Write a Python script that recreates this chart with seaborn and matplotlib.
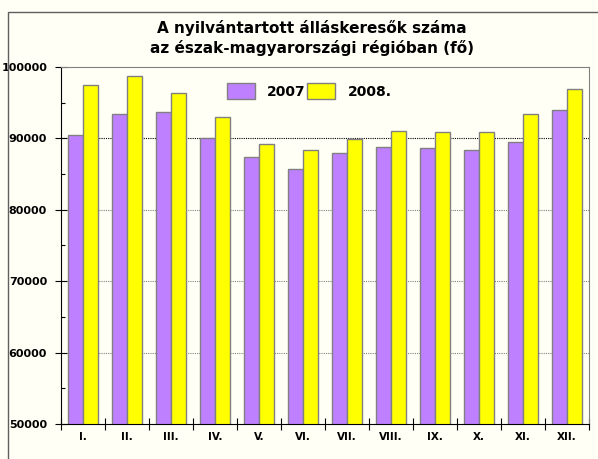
import pandas as pd
import seaborn as sns
import matplotlib.pyplot as plt
from matplotlib.patches import Rectangle
from matplotlib.ticker import MultipleLocator

# Monthly number of registered job seekers
months = ["I.", "II.", "III.", "IV.", "V.", "VI.", "VII.", "VIII.", "IX.", "X.", "XI.", "XII."]
y2007 = [90400, 93400, 93650, 90000, 87350, 85700, 87900, 88850, 88600, 88400, 89500, 93950]
y2008 = [97450, 98700, 96400, 92950, 89250, 88350, 89950, 91000, 90900, 90950, 93350, 96950]
series = ["2007", "2008."]

df = pd.DataFrame({
    "month": months * 2,
    "value": y2007 + y2008,
    "year": [series[0]] * 12 + [series[1]] * 12,
})

bg = "#FFFFF5"
fig = plt.figure(figsize=(5.98, 4.59), dpi=100, facecolor=bg)
ax = fig.add_axes([0.102, 0.0763, 0.883, 0.778])
ax.set_facecolor(bg)

sns.barplot(
    data=df, x="month", y="value", hue="year",
    palette=["#BF80FF", "#FFFF00"], width=0.7,
    edgecolor="#808080", linewidth=1.0, saturation=1, ax=ax,
)

ax.set_ylim(50000, 100000)
ax.set_xlim(-0.5, 11.5)
ax.yaxis.set_minor_locator(MultipleLocator(5000))
ax.set_yticks([50000, 60000, 70000, 80000, 90000, 100000])
ax.set_xlabel("")
ax.set_ylabel("")

# dotted gridlines
for v in [60000, 70000, 80000]:
    ax.axhline(v, color="#808080", linestyle=(0, (1, 1)), linewidth=0.8, zorder=0)
ax.axhline(90000, color="black", linestyle=(0, (1, 1)), linewidth=0.8, zorder=0)

# tick marks between categories on x axis
ax.set_xticks([i + 0.5 for i in range(-1, 12)], minor=True)
ax.tick_params(axis="x", which="major", length=0, pad=6)
ax.tick_params(axis="x", which="minor", length=8, direction="inout", width=0.8)
ax.tick_params(axis="y", which="major", length=8, direction="inout", width=0.8, pad=6)
ax.tick_params(axis="y", which="minor", length=3, direction="in", width=0.8)
for lab in ax.get_xticklabels():
    lab.set_fontsize(7.5)
    lab.set_fontweight("bold")
for lab in ax.get_yticklabels():
    lab.set_fontsize(8)
    lab.set_fontweight("bold")

for s in ["top", "right"]:
    ax.spines[s].set_color("#808080")
ax.spines["left"].set_color("black")
ax.spines["bottom"].set_color("black")

leg = ax.legend(
    loc="upper center", bbox_to_anchor=(0.47, 0.99), ncol=2, frameon=False,
    prop={"weight": "bold", "size": 10}, handlelength=2.0, handleheight=1.4,
    columnspacing=0.1, handletextpad=0.9,
)
leg.set_zorder(10)

fig.text(0.522, 0.917, "A nyilvántartott álláskeresők száma\naz észak-magyarországi régióban (fő)",
         ha="center", va="center", fontsize=11, fontweight="bold", linespacing=1.3)

# outer chart frame
fig.patches.append(Rectangle((8 / 598, -0.1), 1.1, 1.1 - 12 / 459, transform=fig.transFigure,
                             fill=False, edgecolor="#606060", linewidth=1.0))

plt.savefig("out.png", dpi=100, facecolor=bg)
